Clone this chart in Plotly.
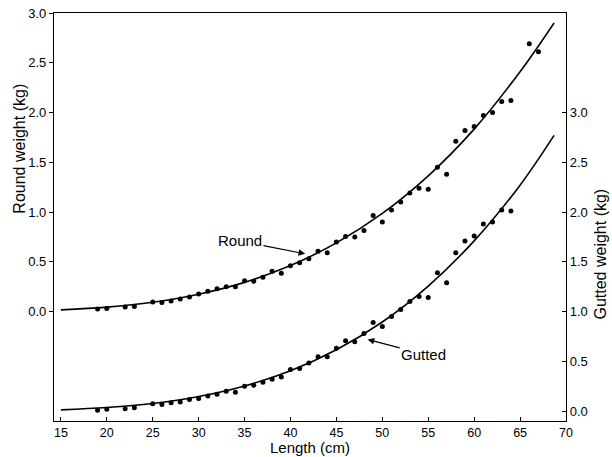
import plotly.graph_objects as go

round_len = [19, 20, 22, 23, 25, 26, 27, 28, 29, 30, 31, 32, 33, 34, 35, 36, 37, 38, 39, 40,
             41, 42, 43, 44, 45, 46, 47, 48, 49, 50, 51, 52, 53, 54, 55, 56, 57, 58, 59, 60,
             61, 62, 63, 64, 66, 67]
round_wt = [0.025, 0.03, 0.045, 0.05, 0.095, 0.09, 0.105, 0.125, 0.145, 0.175,
            0.205, 0.23, 0.25, 0.25, 0.31, 0.305, 0.345, 0.405, 0.385, 0.46,
            0.49, 0.53, 0.605, 0.59, 0.70, 0.755, 0.75, 0.815, 0.965, 0.90,
            1.02, 1.10, 1.19, 1.24, 1.23, 1.45, 1.38, 1.71, 1.82, 1.86,
            1.97, 2.00, 2.11, 2.12, 2.69, 2.61]

gutted_len = [19, 20, 22, 23, 25, 26, 27, 28, 29, 30, 31, 32, 33, 34, 35, 36, 37, 38, 39, 40,
              41, 42, 43, 44, 45, 46, 47, 48, 49, 50, 51, 52, 53, 54, 55, 56, 57, 58, 59, 60,
              61, 62, 63, 64]
gutted_wt = [0.007, 0.017, 0.024, 0.034, 0.074, 0.067, 0.084, 0.091, 0.115, 0.125,
             0.152, 0.169, 0.20, 0.19, 0.25, 0.26, 0.29, 0.32, 0.343, 0.418,
             0.428, 0.484, 0.545, 0.545, 0.63, 0.706, 0.696, 0.78, 0.89, 0.85,
             0.95, 1.02, 1.10, 1.15, 1.14, 1.39, 1.29, 1.59, 1.71, 1.76,
             1.88, 1.90, 2.02, 2.01]

# Fitted curves
fit_len = [15, 20, 25, 30, 35, 40, 45, 50, 55, 60, 65, 68.7]
round_fit = [0.017, 0.044, 0.093, 0.174, 0.293, 0.462, 0.69, 0.986, 1.364, 1.833, 2.41, 2.90]
gutted_fit = [0.012, 0.035, 0.076, 0.146, 0.252, 0.405, 0.616, 0.895, 1.256, 1.71, 2.27, 2.77]

x_ticks = [15, 20, 25, 30, 35, 40, 45, 50, 55, 60, 65, 70]
y_ticks = [0.0, 0.5, 1.0, 1.5, 2.0, 2.5, 3.0]

FONT = "Liberation Sans, Arial, Helvetica, sans-serif"
TITLE_SIZE = 16

fig = go.Figure()
fig.add_trace(go.Scatter(x=fit_len, y=round_fit, mode="lines",
                         line=dict(color="black", width=1.6, shape="spline", smoothing=1.0),
                         showlegend=False, hoverinfo="skip"))
fig.add_trace(go.Scatter(x=round_len, y=round_wt, mode="markers",
                         marker=dict(color="black", size=5), showlegend=False))
fig.add_trace(go.Scatter(x=fit_len, y=gutted_fit, mode="lines", yaxis="y2",
                         line=dict(color="black", width=1.6, shape="spline", smoothing=1.0),
                         showlegend=False, hoverinfo="skip"))
fig.add_trace(go.Scatter(x=gutted_len, y=gutted_wt, mode="markers", yaxis="y2",
                         marker=dict(color="black", size=5), showlegend=False))

fig.add_annotation(x=41.6, y=0.58, xref="x", yref="y", ax=34.5, ay=0.71, axref="x", ayref="y",
                   text="Round", showarrow=True, arrowhead=2, arrowsize=1.1, arrowwidth=1.2,
                   arrowcolor="black", font=dict(size=15, color="black", family=FONT))
fig.add_annotation(x=48.4, y=0.72, xref="x", yref="y2", ax=54.5, ay=0.57, axref="x", ayref="y2",
                   text="Gutted", showarrow=True, arrowhead=2, arrowsize=1.1, arrowwidth=1.2,
                   arrowcolor="black", font=dict(size=15, color="black", family=FONT))

# Axis titles placed as paper-anchored text
fig.add_annotation(text="Round weight (kg)", textangle=-90, showarrow=False,
                   xref="paper", yref="paper", x=-0.068, y=0.668,
                   xanchor="center", yanchor="middle",
                   font=dict(size=TITLE_SIZE, color="black", family=FONT))
fig.add_annotation(text="Gutted weight (kg)", textangle=-90, showarrow=False,
                   xref="paper", yref="paper", x=1.068, y=0.41,
                   xanchor="center", yanchor="middle",
                   font=dict(size=TITLE_SIZE, color="black", family=FONT))
fig.add_annotation(text="Length (cm)", showarrow=False,
                   xref="paper", yref="paper", x=0.5, y=-0.064,
                   xanchor="center", yanchor="middle",
                   font=dict(size=15, color="black", family=FONT))

fig.update_layout(
    width=612, height=457,
    margin=dict(l=54, r=46, t=13, b=36),
    paper_bgcolor="white", plot_bgcolor="white",
    font=dict(family=FONT, color="black", size=13),
    xaxis=dict(range=[14.25, 70], tickvals=x_ticks, ticks="inside", ticklen=4,
               tickcolor="black", showline=True, linecolor="black", linewidth=1.2,
               mirror=True, showgrid=False, zeroline=False, automargin=False,
               ticklabeloverflow="allow", tickfont=dict(size=12.5)),
    yaxis=dict(range=[-1.1, 3.0], tickvals=y_ticks, tickformat=".1f", ticks="outside",
               ticklen=4, tickcolor="black", showline=True, linecolor="black", linewidth=1.2,
               showgrid=False, zeroline=False, automargin=False,
               ticklabeloverflow="allow", tickfont=dict(size=13)),
    yaxis2=dict(range=[-0.1, 4.0], tickvals=y_ticks, tickformat=".1f", ticks="inside",
                ticklen=4, tickcolor="black", showline=True, linecolor="black", linewidth=1.2,
                overlaying="y", side="right", showgrid=False, zeroline=False, automargin=False,
                ticklabeloverflow="allow", tickfont=dict(size=13)),
)

# Remove the browser's default page margin so the figure sits at the window's corner
fig.write_html("out.html", config={"displayModeBar": False},
               post_script="document.body.style.margin='0';")
